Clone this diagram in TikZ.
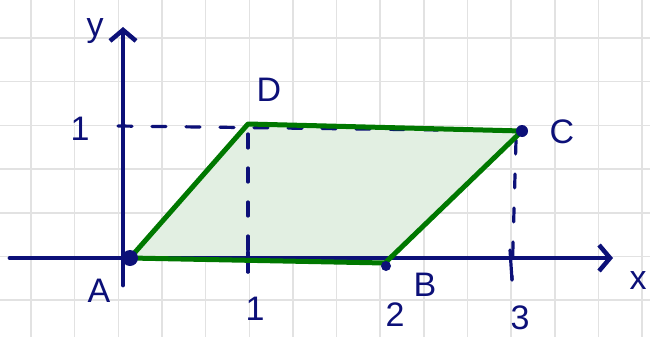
\documentclass[tikz,border=0pt]{standalone}
\usepackage{fontspec}
\setmainfont{Liberation Sans}
\usetikzlibrary{arrows.meta}
\definecolor{navy}{RGB}{12,16,120}
\definecolor{dgreen}{RGB}{0,120,0}
\definecolor{lgreen}{RGB}{226,239,226}
\definecolor{gridc}{RGB}{226,226,226}
\tikzset{
  gridline/.style={draw=gridc, line width=1.5pt},
  axis/.style={draw=navy, line width=4.8pt, line cap=round},
  axisarrow/.style={axis, -{Straight Barb[length=11pt, width=26pt, line width=4.5pt]}},
  guide/.style={draw=navy, line width=3.2pt, line cap=round, dash pattern=on 14pt off 20pt},
  edge/.style={draw=dgreen, line width=5pt, line join=round},
  lbl/.style={text=navy, font=\fontsize{34}{34}\selectfont, inner sep=0pt},
  dot/.style={fill=navy, circle, inner sep=0pt}
}
\begin{document}
\begin{tikzpicture}[x=1pt, y=-1pt]
\useasboundingbox (0,0) rectangle (650,337);
% grid
\foreach \i in {0,...,14} { \draw[gridline] ({31+43.65*\i},0) -- ({31+43.65*\i},337); }
\foreach \j in {0,...,6} { \draw[gridline] (0,{38+43.7*\j}) -- (650,{38+43.7*\j}); }
% points
\coordinate (A) at (130,258);
\coordinate (B) at (385,263);
\coordinate (C) at (522,131);
\coordinate (D) at (248,124);
\coordinate (Y1) at (118,126);
\coordinate (X1) at (248,272);
\coordinate (X3) at (512,280);
\coordinate (C3) at (516,140);
% fill
\fill[lgreen] (A) -- (B) -- (C) -- (D) -- cycle;
% guides
\draw[guide] (Y1) -- (C);
\draw[guide] (D) ++(0,10) -- (X1);
\draw[guide] (C3) -- (X3);
% axes
\coordinate (xs) at (10,258);
\coordinate (xe) at (613,258);
\coordinate (ys) at (123,285);
\coordinate (ye) at (123,27);
\draw[axisarrow] (xs) -- (xe);
\draw[axisarrow] (ys) -- (ye);
% ticks
\draw[axis, line width=3.2pt] (510,250) -- (512,280);
\draw[axis, line width=3.2pt] (248,252) -- (248,272);
% parallelogram
\draw[edge] (A) -- (B) -- (C) -- (D) -- cycle;
% dots
\node[dot, minimum size=16pt] (dA) at (A) {};
\node[dot, minimum size=12pt] (dC) at (C) {};
\node[dot, minimum size=10pt] (dB) at (386,266) {};
% labels
\node[lbl] (ly) at (95,31) {y};
\node[lbl] (l1y) at (80,129) {1};
\node[lbl] (lD) at (269,90) {D};
\node[lbl] (lC) at (562,132) {C};
\node[lbl] (lA) at (99,291) {A};
\node[lbl] (l1x) at (255,309) {1};
\node[lbl] (l2) at (395,315) {2};
\node[lbl] (lB) at (425,285) {B};
\node[lbl] (l3) at (520,318) {3};
\node[lbl] (lx) at (638,281) {x};
\end{tikzpicture}
\end{document}
